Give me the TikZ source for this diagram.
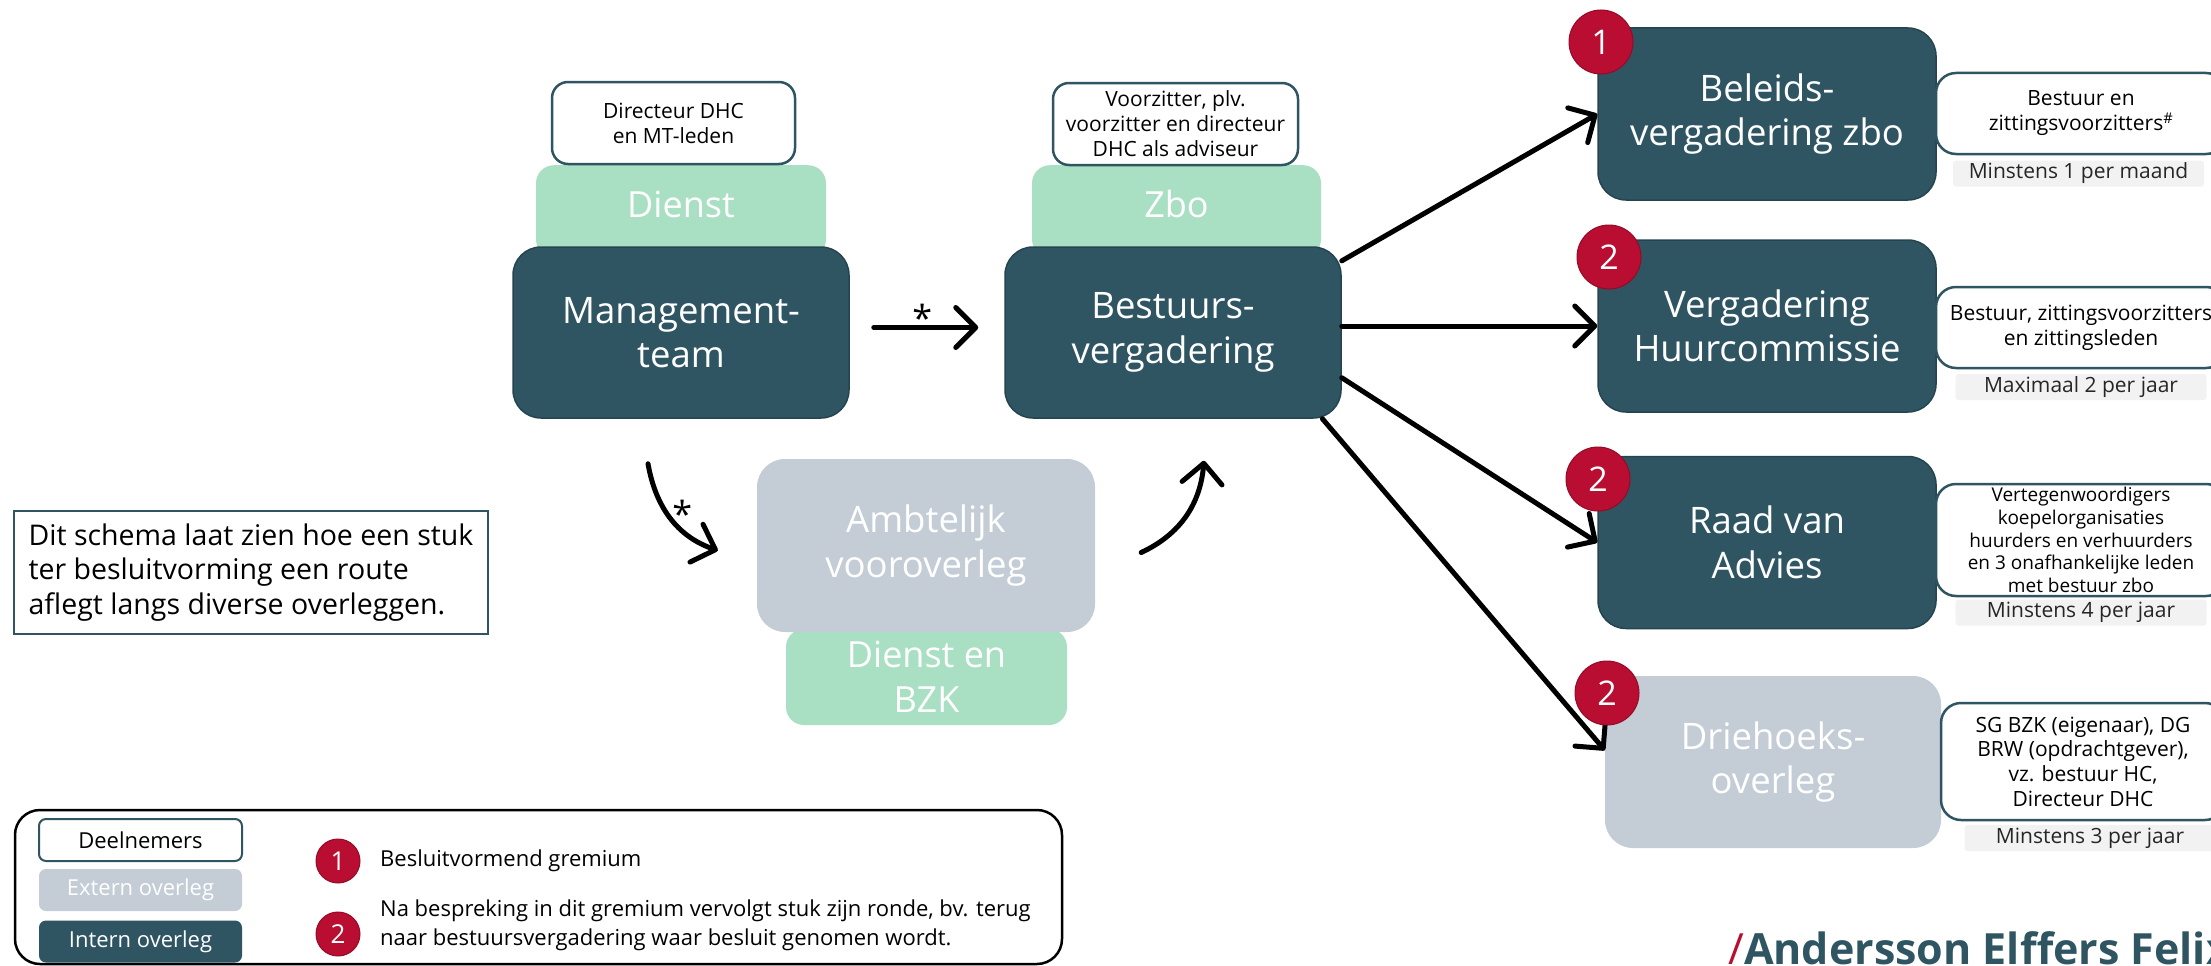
\documentclass[tikz,border=0pt]{standalone}
\usepackage{fontspec}
\setmainfont{Open Sans}
\usetikzlibrary{arrows.meta,calc}
\definecolor{aefteal}{HTML}{2F5563}
\definecolor{aefgreen}{HTML}{A9DFC2}
\definecolor{aefgrey}{HTML}{C4CCD6}
\definecolor{aefred}{HTML}{B90E31}
\definecolor{aeflight}{HTML}{F2F2F2}
\tikzset{
  gremium/.style={rectangle, rounded corners=28pt, minimum width=338pt, minimum height=172pt, inner sep=0pt, text=white, align=center, font=\fontsize{36.5}{44.5}\selectfont},
  intern/.style={gremium, fill=aefteal, draw=aefteal!80!black, line width=1.5pt},
  extern/.style={gremium, fill=aefgrey},
  orgbox/.style={rectangle, rounded corners=18pt, fill=aefgreen, inner sep=0pt, text=white, align=center, font=\fontsize{36}{45}\selectfont},
  orgtop/.style={orgbox, anchor=north, text height=52pt, text depth=40pt},
  deeln/.style={rectangle, rounded corners=16pt, draw=aefteal, line width=2.5pt, fill=white, inner sep=0pt, align=center, font=\fontsize{21}{25}\selectfont},
  freq/.style={rectangle, rounded corners=3pt, fill=aeflight, inner sep=0pt, minimum width=251pt, minimum height=26pt, text=black!85, font=\fontsize{21}{25}\selectfont},
  badge/.style={circle, fill=aefred, draw=aefred!80!black, line width=1pt, minimum size=64pt, inner sep=0pt, text=white, font=\fontsize{34}{34}\selectfont},
  flow/.style={line width=5pt, line cap=round, -{Straight Barb[length=20pt,width=40pt,round]}},
  star/.style={font=\fontsize{36}{36}\selectfont, inner sep=0pt, anchor=base},
  lgbox/.style={rectangle, rounded corners=7pt, minimum width=203pt, minimum height=42pt, inner sep=0pt, font=\fontsize{22}{26}\selectfont},
}
\begin{document}
\begin{tikzpicture}[x=1pt,y=-1pt]
\useasboundingbox (0,0) rectangle (2211,966);
\fill[white] (0,0) rectangle (2211,966);
\clip (0,0) rectangle (2211,966);

% organisation boxes (behind)
\node[orgtop, minimum width=290pt] (dienst) at (681,165) {Dienst};
\node[orgtop, minimum width=289pt] (zbo) at (1176.5,165) {Zbo};
\node[orgbox, minimum width=281pt, minimum height=96pt] (dbzk) at (926.5,677) {Dienst en\\BZK};

% participants above
\node[deeln, minimum width=243pt, minimum height=82pt] (dirmt) at (673.5,123) {Directeur DHC\\en MT-leden};
\node[deeln, minimum width=245pt, minimum height=82pt] (vzbv) at (1175.5,124) {Voorzitter, plv.\\voorzitter en directeur\\DHC als adviseur};

% main boxes
\node[intern, minimum width=336pt, minimum height=171pt] (mt) at (681,332.5) {Management-\\team};
\node[intern, minimum width=336pt, minimum height=171pt] (bv) at (1173,332.5) {Bestuurs-\\vergadering};
\node[extern, minimum width=338pt, minimum height=173pt] (amb) at (926,545.5) {Ambtelijk\\vooroverleg};

\node[intern] (bz) at (1767,114) {Beleids-\\vergadering zbo};
\node[intern] (vh) at (1767,326) {Vergadering\\Huurcommissie};
\node[intern] (rva) at (1767,542.5) {Raad van\\Advies};
\node[extern, minimum width=336pt] (dh) at (1773,762) {Driehoeks-\\overleg};

% participants right
\node[deeln, rounded corners=20pt, minimum width=290pt, minimum height=81pt] (pbz) at (2081,113.5) {Bestuur en\\zittingsvoorzitters\textsuperscript{\#}};
\node[deeln, rounded corners=20pt, minimum width=290pt, minimum height=81pt] (pvh) at (2081,327.5) {Bestuur, zittingsvoorzitters\\en zittingsleden};
\node[deeln, rounded corners=20pt, minimum width=290pt, minimum height=112pt, font=\fontsize{19}{22.6}\selectfont] (prva) at (2081,540) {Vertegenwoordigers\\koepelorganisaties\\huurders en verhuurders\\en 3 onafhankelijke leden\\met bestuur zbo};
\node[deeln, rounded corners=20pt, minimum width=284pt, minimum height=117pt, font=\fontsize{21}{24.7}\selectfont] (pdh) at (2083,761.5) {SG BZK (eigenaar), DG\\BRW (opdrachtgever),\\vz. bestuur HC,\\Directeur DHC};

\node[freq] (fbz) at (2078.5,173.5) {Minstens 1 per maand};
\node[freq] (fvh) at (2081,387) {Maximaal 2 per jaar};
\node[freq] (frva) at (2081,612.5) {Minstens 4 per jaar};
\node[freq] (fdh) at (2090,838) {Minstens 3 per jaar};

% connectors
\draw[flow, shorten <=24pt, shorten >=26pt] ([yshift=5pt]mt.east) -- node[star, pos=0.47, yshift=-4pt] {*} ([yshift=5pt]bv.west);
\draw[flow] ($(mt.south)+(-33,45)$) to[out=-80,in=161] node[star, pos=0.5, xshift=12pt, yshift=-9.5pt] {*} ($(amb.west)+(-39,5)$);
\draw[flow] ($(amb.east)+(46,7)$) to[out=25,in=-95] ($(bv.south)+(31,42)$);
\draw[flow] (bv.23) -- (bz.west);
\draw[flow] (bv.east |- vh.west) -- (vh.west);
\draw[flow] (bv.-15.5) -- (rva.west);
\draw[flow] (bv.-30.4) -- (dh.176);

% badges
\node[badge] (b1) at (1601,42) {1};
\node[badge] (b2) at (1609,257) {2};
\node[badge] (b3) at (1598,479) {2};
\node[badge] (b4) at (1607,693) {2};

% intro text
\node[draw=aefteal, line width=2.5pt, minimum width=474pt, minimum height=123pt, inner sep=0pt, align=left, font=\fontsize{28.5}{34.5}\selectfont] (intro) at (251,572.5) {Dit schema laat zien hoe een stuk\\ter besluitvorming een route\\aflegt langs diverse overleggen.};

% legend
\node[draw=black, line width=2.5pt, rounded corners=25pt, minimum width=1047pt, minimum height=154pt, inner sep=0pt] (legend) at (538.5,887) {};
\node[lgbox, draw=aefteal, line width=2pt, fill=white] (lgd) at (140.5,840) {Deelnemers};
\node[lgbox, fill=aefgrey, text=white] (lge) at (140.5,890) {Extern overleg};
\node[lgbox, fill=aefteal, text=white] (lgi) at (140.5,941.5) {Intern overleg};
\node[badge, minimum size=44pt, font=\fontsize{26}{26}\selectfont] (lg1) at (338,861) {1};
\node[badge, minimum size=44pt, font=\fontsize{26}{26}\selectfont] (lg2) at (338,934) {2};
\node[anchor=base west, inner sep=0pt, font=\fontsize{22}{29}\selectfont] (lgt1) at (380,866) {Besluitvormend gremium};
\node[anchor=west, inner sep=0pt, align=left, font=\fontsize{22}{29}\selectfont] (lgt2) at (380,925.5) {Na bespreking in dit gremium vervolgt stuk zijn ronde, bv. terug\\naar bestuursvergadering waar besluit genomen wordt.};

% logo
\node[anchor=base west, inner sep=0pt, text=aefteal, font=\fontsize{43}{43}\selectfont\bfseries] (logo) at (1728,964) {{\mdseries\color{aefred}/}Andersson Elffers Felix};
\end{tikzpicture}
\end{document}
